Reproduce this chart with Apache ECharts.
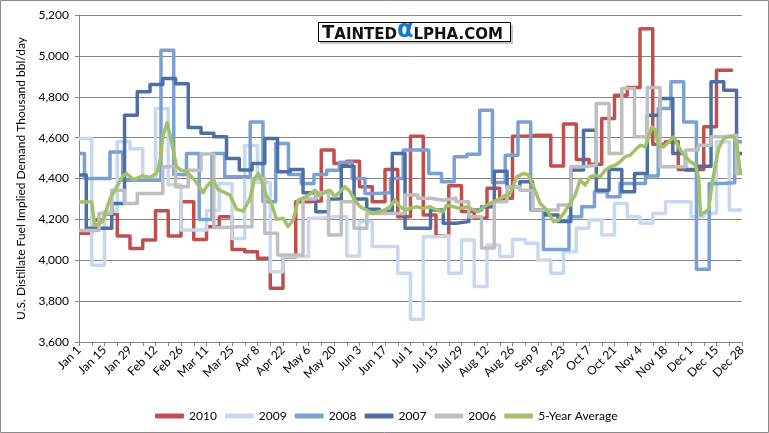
<!DOCTYPE html>
<html><head><meta charset="utf-8">
<script src="https://cdn.jsdelivr.net/npm/echarts@6/dist/echarts.min.js"></script>
<style>html,body{margin:0;padding:0;background:#fff}#c{width:769px;height:433px}</style>
</head><body><div id="c"></div>
<script>
// X tick labels (every 14 days)
const tickLabels = ['Jan 1','Jan 15','Jan 29','Feb 12','Feb 26','Mar 11','Mar 25','Apr 8','Apr 22','May 6','May 20','Jun 3','Jun 17','Jul 1','Jul 15','Jul 29','Aug 12','Aug 26','Sep 9','Sep 23','Oct 7','Oct 21','Nov 4','Nov 18','Dec 1','Dec 15','Dec 28'];

// Weekly values (day of first week start, last day shown)
const start2010 = 0, end2010 = 359;
const y2010 = [4132,4197,4226,4119,4058,4099,4242,4119,4286,4102,4164,4213,4053,4042,4010,3863,4016,4286,4290,4539,4474,4485,4360,4286,4444,4213,4607,4221,4119,4364,4238,4206,4352,4303,4607,4612,4612,4461,4667,4493,4470,4693,4807,4845,5133,4568,4580,4444,4444,4653,4930];
const start2009 = 0, end2009 = 364;
const y2009 = [4596,3975,4240,4580,4545,4400,4742,4370,4148,4148,4244,4375,4106,4562,4380,3944,4018,4018,4205,4213,4213,4021,4189,4067,4067,3936,3711,4115,4120,3936,4099,3871,4075,4018,4102,4083,4001,3936,4042,4156,4197,4124,4278,4213,4181,4229,4286,4286,4213,4230,4580,4246];
const start2008 = -4, end2008 = 364;
const y2008 = [4522,4400,4400,4530,4392,4392,4392,5027,4420,4522,4200,4522,4408,4408,4677,4286,4571,4420,4376,4420,4440,4480,4400,4327,4330,4400,4539,4539,4425,4384,4506,4519,4734,4380,4514,4677,4246,4053,4053,4213,4262,4335,4311,4376,4376,4412,4742,4873,4677,3956,4376,4379,4580];
const start2007 = -3, end2007 = 364;
const y2007 = [4417,4156,4156,4278,4710,4824,4860,4889,4864,4650,4622,4604,4498,4441,4474,4596,4433,4444,4330,4237,4300,4460,4300,4250,4240,4522,4156,4156,4246,4181,4189,4246,4262,4436,4360,4384,4246,4221,4189,4441,4636,4343,4444,4335,4425,4710,4791,4522,4441,4460,4873,4832,4522];
const start2006 = -3, end2006 = 364;
const y2006 = [4145,4145,4230,4343,4278,4327,4327,4457,4360,4440,4520,4160,4164,4164,4400,4132,4026,4026,4300,4330,4124,4286,4156,4229,4229,4229,4319,4303,4294,4303,4286,4213,4060,4286,4360,4343,4246,4246,4270,4457,4465,4767,4522,4840,4604,4845,4457,4457,4539,4563,4604,4612,4425];

// 5-year average (day, value)
const avgDays = [0,7,8.6,13,17,20.5,24,26,30,35,39,42.5,44.4,46.2,48.4,50.8,53.5,56,59,63.6,68.2,70,73.6,76.4,79.1,82.8,86.5,90.1,93.8,96.5,98.4,100.2,102.9,105.7,108.4,112.1,114.8,117.6,120.3,124.9,129.5,132.2,135,137.8,140.5,143.3,146,148.8,151.5,154.3,157.9,161.6,164.3,168,170.7,173.5,176.2,179,181.7,185.4,189,192.7,196.4,200,201.9,205.6,209.3,212.9,216.6,219.3,222.1,225.7,229.4,233,236.7,240.4,244,246.8,249.5,253.2,256.9,260.5,263.3,266,269.6,272.4,275.1,277.9,280.6,283.4,286.1,288.9,291.6,294.4,297.1,299.8,302.6,305.3,308.1,310.8,312.7,314.5,316.4,318.2,321,323.8,326.5,328.3,330.2,332.9,335.7,338.4,340.2,341.2,343.9,345.7,347.6,349.4,351.2,354,356.7,359.5,361.3,363.2];
const avgValues = [4285,4285,4170,4190,4300,4355,4410,4425,4395,4413,4405,4425,4480,4615,4672,4580,4460,4440,4435,4392,4330,4360,4395,4345,4335,4320,4250,4240,4300,4400,4425,4392,4315,4278,4200,4205,4165,4197,4294,4311,4343,4315,4335,4343,4311,4335,4360,4335,4294,4262,4246,4229,4237,4246,4262,4294,4262,4246,4254,4262,4254,4262,4246,4237,4270,4262,4254,4262,4246,4237,4262,4278,4294,4311,4327,4408,4425,4417,4360,4278,4246,4189,4197,4229,4278,4319,4392,4368,4408,4417,4408,4441,4457,4465,4482,4506,4514,4539,4563,4555,4604,4653,4636,4555,4555,4580,4604,4571,4539,4506,4482,4465,4408,4221,4237,4249,4376,4465,4547,4596,4604,4604,4555,4417];

const names = ['2010','2009','2008','2007','2006','5-Year Average'];
const colors = ['#c0504d','#c6d9f1','#7aa0d4','#4e6fa2','#bfbfbf','#a3c16a'];

function steps(start, end, vals) {
  const pts = vals.map((v, i) => [Math.max(0, start + 7 * i), v]);
  pts.push([end, vals[vals.length - 1]]);
  return pts;
}
const stepData = [
  steps(start2010, end2010, y2010),
  steps(start2009, end2009, y2009),
  steps(start2008, end2008, y2008),
  steps(start2007, end2007, y2007),
  steps(start2006, end2006, y2006)
];
const avgData = avgDays.map((d, i) => [d, avgValues[i]]);

const FONT = 'Lato';
const series = stepData.map((d, i) => ({
  name: names[i], type: 'line', step: 'end', data: d, symbol: 'none',
  lineStyle: { width: 3.5, color: colors[i], join: 'round' },
  itemStyle: { color: colors[i] }, animation: false
}));
series.push({
  name: names[5], type: 'line', data: avgData, symbol: 'none',
  lineStyle: { width: 3.5, color: colors[5], join: 'round' },
  itemStyle: { color: colors[5] }, animation: false
});

const chart = echarts.init(document.getElementById('c'), null, { renderer: 'canvas' });
chart.setOption({
  backgroundColor: '#ffffff',
  animation: false,
  grid: { left: 79, top: 15, right: 27, bottom: 91, containLabel: false },
  xAxis: {
    type: 'value', min: 0, max: 364, interval: 7,
    axisLine: { show: true, lineStyle: { color: '#868686', width: 1 } },
    axisTick: { show: true, length: 4, lineStyle: { color: '#868686' } },
    splitLine: { show: false },
    axisLabel: {
      rotate: 45, margin: 6, color: '#000', fontFamily: FONT, fontSize: 12,
      formatter: v => (v % 14 === 0 ? tickLabels[v / 14] : '')
    }
  },
  yAxis: {
    type: 'value', min: 3600, max: 5200, interval: 200,
    name: 'U.S. Distillate Fuel Implied Demand Thousand bbl/day',
    nameLocation: 'middle', nameGap: 46, nameRotate: 90,
    nameTextStyle: { color: '#000', fontFamily: FONT, fontSize: 12 },
    axisLine: { show: true, lineStyle: { color: '#868686', width: 1 } },
    axisTick: { show: true, length: 4, lineStyle: { color: '#868686' } },
    splitLine: { show: true, lineStyle: { color: '#868686', width: 1 } },
    axisLabel: {
      margin: 10, color: '#000', fontFamily: FONT, fontSize: 12,
      formatter: v => v.toLocaleString('en-US')
    }
  },
  legend: {
    data: names, left: 150, top: 405, itemWidth: 29, itemHeight: 5, itemGap: 8,
    icon: 'roundRect',
    textStyle: { color: '#000', fontFamily: FONT, fontSize: 12 }
  },
  graphic: [
    { type: 'rect', shape: { x: 0.5, y: 0.5, width: 768, height: 432 }, style: { fill: 'none', stroke: '#8a8a8a', lineWidth: 1 }, silent: true },
    { type: 'rect', shape: { x: 320, y: 25, width: 193, height: 19 }, style: { fill: '#c8c8c8' }, z: 100 },
    { type: 'rect', shape: { x: 318.5, y: 22.5, width: 192, height: 19 }, style: { fill: '#fff', stroke: '#000', lineWidth: 1 }, z: 101 },
    { type: 'text', x: 322, y: 32.5, z: 102, style: {
      text: '{t|T}{s|AINTED}{a|α}{s|LPHA.COM}', verticalAlign: 'middle',
      rich: {
        t: { fontFamily: 'DejaVu Sans', fontWeight: 'bold', fontSize: 18, fill: '#111', verticalAlign: 'bottom', lineHeight: 20 },
        s: { fontFamily: 'DejaVu Sans', fontWeight: 'bold', fontSize: 15, fill: '#111', verticalAlign: 'bottom', lineHeight: 20 },
        a: { fontFamily: 'DejaVu Sans', fontWeight: 'bold', fontSize: 24, fill: '#1a78cc', verticalAlign: 'bottom', lineHeight: 20 }
      }
    } }
  ],
  series: series
});
</script>
</body></html>
